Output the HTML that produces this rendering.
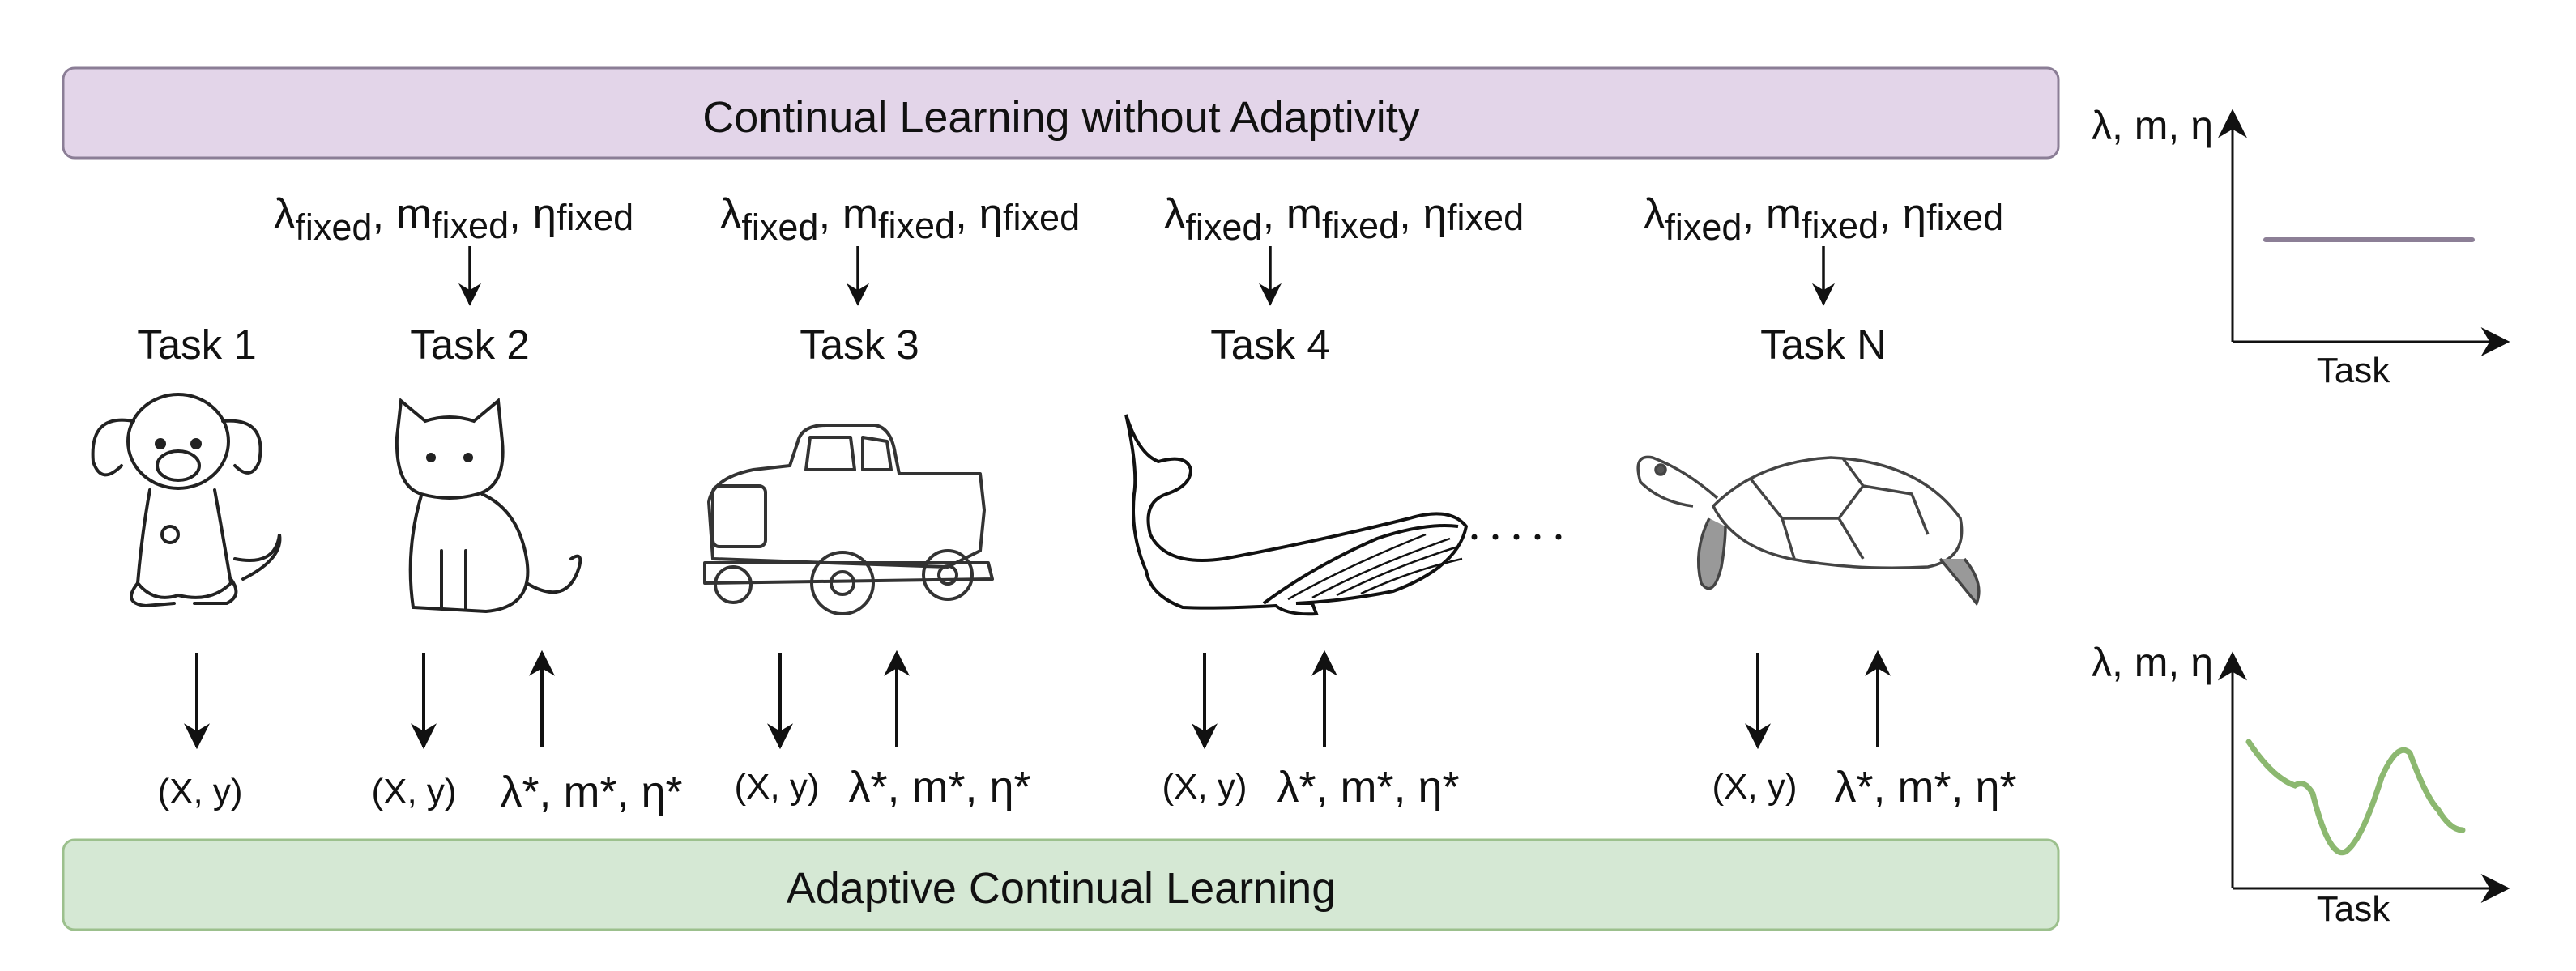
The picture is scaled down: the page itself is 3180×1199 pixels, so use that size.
<!DOCTYPE html>
<html><head><meta charset="utf-8"><style>
html,body{margin:0;padding:0;background:#fff}
svg{display:block}
text{font-family:"Liberation Sans",sans-serif;fill:#111}
</style></head><body>
<svg width="3180" height="1199" viewBox="0 0 3180 1199" xmlns="http://www.w3.org/2000/svg">
<defs>
<marker id="ah" viewBox="0 0 10 10" refX="9" refY="5" markerWidth="8" markerHeight="8" orient="auto"><path d="M0,0 L10,5 L0,10 L3,5 z" fill="#111"/></marker>
<marker id="ah2" viewBox="0 0 10 10" refX="9" refY="5" markerWidth="12" markerHeight="12" orient="auto"><path d="M0,0 L10,5 L0,10 L3,5 z" fill="#111"/></marker>
</defs>
<rect x="78" y="84" width="2463" height="111" rx="14" fill="#e3d5e9" stroke="#8b7e96" stroke-width="3"/>
<text x="1310" y="163" font-size="54" text-anchor="middle">Continual Learning without Adaptivity</text>
<rect x="78" y="1037" width="2463" height="111" rx="14" fill="#d5e8d4" stroke="#9cc08d" stroke-width="3"/>
<text x="1310" y="1115" font-size="54" text-anchor="middle">Adaptive Continual Learning</text>

<g font-size="53">
<text x="560" y="282" text-anchor="middle">λ<tspan font-size="45" dy="14">fixed</tspan><tspan dy="-14">, m</tspan><tspan font-size="45" dy="12">fixed</tspan><tspan dy="-12">, η</tspan><tspan font-size="45" dy="2">fixed</tspan></text>
<text x="1111" y="282" text-anchor="middle">λ<tspan font-size="45" dy="14">fixed</tspan><tspan dy="-14">, m</tspan><tspan font-size="45" dy="12">fixed</tspan><tspan dy="-12">, η</tspan><tspan font-size="45" dy="2">fixed</tspan></text>
<text x="1659" y="282" text-anchor="middle">λ<tspan font-size="45" dy="14">fixed</tspan><tspan dy="-14">, m</tspan><tspan font-size="45" dy="12">fixed</tspan><tspan dy="-12">, η</tspan><tspan font-size="45" dy="2">fixed</tspan></text>
<text x="2251" y="282" text-anchor="middle">λ<tspan font-size="45" dy="14">fixed</tspan><tspan dy="-14">, m</tspan><tspan font-size="45" dy="12">fixed</tspan><tspan dy="-12">, η</tspan><tspan font-size="45" dy="2">fixed</tspan></text>
</g>
<g stroke="#111" stroke-width="3.5" marker-end="url(#ah)">
<line x1="580" y1="304" x2="580" y2="375"/>
<line x1="1059" y1="304" x2="1059" y2="375"/>
<line x1="1568" y1="304" x2="1568" y2="375"/>
<line x1="2251" y1="304" x2="2251" y2="375"/>
</g>
<g font-size="51" text-anchor="middle">
<text x="243" y="443">Task 1</text><text x="580" y="443">Task 2</text><text x="1061" y="443">Task 3</text><text x="1568" y="443">Task 4</text><text x="2251" y="443">Task N</text>
</g>

<!-- dog -->
<g fill="none" stroke="#222" stroke-width="4" stroke-linecap="round">
<ellipse cx="220" cy="545" rx="62" ry="58"/>
<path d="M165 520 Q110 510 115 570 Q125 600 150 575"/>
<path d="M275 520 Q330 515 320 570 Q310 595 290 575"/>
<ellipse cx="220" cy="575" rx="26" ry="18"/>
<circle cx="198" cy="548" r="5" fill="#222"/><circle cx="242" cy="548" r="5" fill="#222"/>
<path d="M185 605 Q175 660 170 720 Q190 745 220 735 Q260 745 285 720 Q275 660 265 605"/>
<path d="M170 720 Q150 745 180 748 L215 745"/><path d="M240 745 L280 745 Q300 735 285 715"/>
<path d="M290 690 Q340 700 345 660 Q350 690 300 715"/>
<circle cx="210" cy="660" r="10"/>
</g>
<!-- cat -->
<g fill="none" stroke="#222" stroke-width="4" stroke-linecap="round">
<path d="M490 540 L495 495 L525 520 Q555 510 585 520 L615 495 L620 545 Q625 600 590 610 Q555 620 520 610 Q488 600 490 540z"/>
<circle cx="532" cy="565" r="4" fill="#222"/><circle cx="578" cy="565" r="4" fill="#222"/>
<path d="M520 612 Q500 680 510 750 L600 755 Q660 750 650 690 Q640 630 595 610"/>
<path d="M650 720 Q700 750 715 700 Q720 680 705 690"/>
<line x1="545" y1="680" x2="545" y2="752"/><line x1="575" y1="680" x2="575" y2="752"/>
</g>
<!-- truck -->
<g fill="none" stroke="#333" stroke-width="4" stroke-linejoin="round">
<path d="M880 690 L875 620 Q880 590 930 580 L975 575 L985 545 Q990 525 1020 525 L1080 525 Q1100 528 1105 560 L1110 585 L1210 585 L1215 630 L1210 680 L1170 700 Z"/>
<path d="M1000 540 L1050 540 L1055 580 L995 580z"/><path d="M1065 540 L1095 545 L1100 580 L1065 580z"/>
<rect x="880" y="600" width="65" height="75" rx="8"/>
<path d="M870 695 L1220 695 L1225 715 L870 720 Z"/>
<circle cx="1040" cy="720" r="38"/><circle cx="1040" cy="720" r="14"/>
<circle cx="1170" cy="710" r="30"/><circle cx="1170" cy="710" r="11"/>
<circle cx="905" cy="722" r="22"/>
</g>
<!-- whale -->
<g fill="none" stroke="#111" stroke-width="4">
<path d="M1390 512 Q1405 560 1430 570 Q1465 560 1470 580 Q1470 600 1440 610 Q1410 620 1420 660 Q1440 700 1510 690 Q1620 670 1740 640 Q1790 625 1810 650 Q1800 700 1720 730 Q1660 742 1600 745 L1620 745 L1625 758 Q1590 760 1575 748 Q1500 752 1460 750 Q1420 735 1415 705 Q1395 660 1400 610 Q1405 580 1390 512Z"/>
<path d="M1560 745 Q1620 700 1700 665 Q1760 645 1800 650"/>
<path d="M1590 740 Q1660 700 1760 660 M1620 738 Q1690 700 1790 665 M1650 735 Q1720 700 1800 675 M1680 733 Q1740 705 1805 690" stroke-width="2.5"/>
</g>
<g fill="#111"><circle cx="1820" cy="663" r="3.5"/><circle cx="1846" cy="663" r="3.5"/><circle cx="1872" cy="663" r="3.5"/><circle cx="1898" cy="663" r="3.5"/><circle cx="1924" cy="663" r="3.5"/></g>
<!-- turtle -->
<g fill="none" stroke="#444" stroke-width="3.5">
<path d="M2115 625 Q2170 570 2260 565 Q2370 570 2420 640 Q2430 690 2380 700 Q2290 705 2210 690 Q2140 675 2115 625Z"/>
<path d="M2160 590 L2200 640 L2270 640 L2300 600 M2200 640 L2215 690 M2270 640 L2300 690 M2300 600 L2360 610 L2380 660 M2300 600 L2275 566"/>
<path d="M2120 615 Q2080 580 2040 565 Q2015 560 2025 595 Q2050 620 2090 625"/>
<path d="M2110 640 Q2090 680 2100 720 Q2115 740 2125 700 Q2130 670 2130 650" fill="#999"/>
<path d="M2395 690 Q2420 720 2440 745 Q2450 720 2425 690" fill="#999"/>
<circle cx="2050" cy="580" r="6" fill="#555"/>
</g>

<g stroke="#111" stroke-width="4" marker-end="url(#ah)">
<line x1="243" y1="806" x2="243" y2="922"/>
<line x1="523" y1="806" x2="523" y2="922"/>
<line x1="963" y1="806" x2="963" y2="922"/>
<line x1="1487" y1="806" x2="1487" y2="922"/>
<line x1="2170" y1="806" x2="2170" y2="922"/>
<line x1="669" y1="922" x2="669" y2="806"/>
<line x1="1107" y1="922" x2="1107" y2="806"/>
<line x1="1635" y1="922" x2="1635" y2="806"/>
<line x1="2318" y1="922" x2="2318" y2="806"/>
</g>
<g font-size="44" text-anchor="middle">
<text x="247" y="992">(X, y)</text><text x="511" y="992">(X, y)</text><text x="959" y="986">(X, y)</text><text x="1487" y="986">(X, y)</text><text x="2166" y="986">(X, y)</text>
</g>
<g font-size="54" text-anchor="middle">
<text x="730" y="996">λ*, m*, η*</text><text x="1160" y="990">λ*, m*, η*</text><text x="1689" y="990">λ*, m*, η*</text><text x="2377" y="990">λ*, m*, η*</text>
</g>

<g stroke="#111" stroke-width="3" fill="none" marker-end="url(#ah2)">
<line x1="2756" y1="422" x2="2756" y2="138"/>
<line x1="2756" y1="422" x2="3095" y2="422"/>
<line x1="2756" y1="1097" x2="2756" y2="808"/>
<line x1="2756" y1="1097" x2="3095" y2="1097"/>
</g>
<g font-size="50">
<text x="2582" y="172">λ, m, η</text><text x="2582" y="835">λ, m, η</text>
<text x="2905" y="472" text-anchor="middle" font-size="44">Task</text><text x="2905" y="1137" text-anchor="middle" font-size="44">Task</text>
</g>
<line x1="2797" y1="296" x2="3052" y2="296" stroke="#8c7f96" stroke-width="6" stroke-linecap="round"/>
<path d="M2776 916 Q2805 960 2833 970 Q2845 962 2855 980 Q2875 1060 2895 1052 Q2915 1040 2940 960 Q2960 915 2975 930 Q2995 985 3010 1000 Q3025 1025 3040 1025" fill="none" stroke="#8cb870" stroke-width="7" stroke-linecap="round"/>
</svg>
</body></html>
